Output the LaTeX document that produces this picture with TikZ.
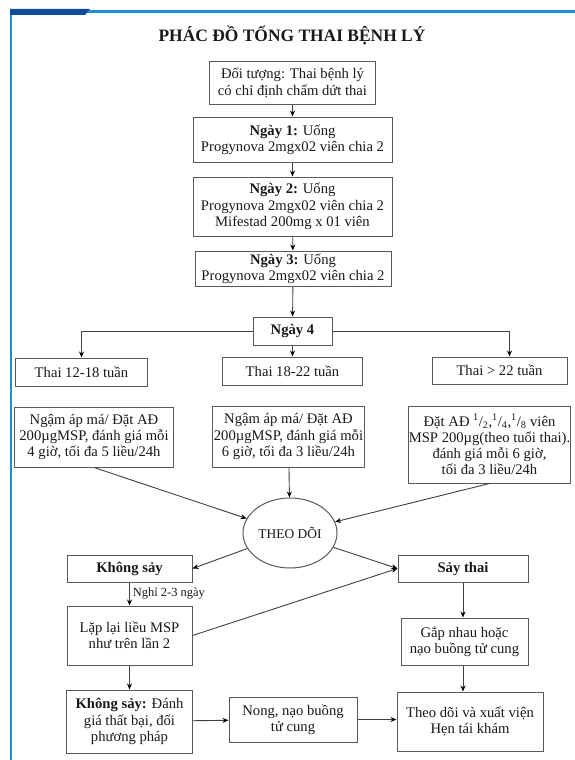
\documentclass[tikz,border=0pt]{standalone}
\usepackage{fontspec}
\setmainfont{Liberation Serif}
\usetikzlibrary{arrows.meta,positioning,calc,shapes.geometric}
\definecolor{framedark}{RGB}{14,78,152}
\definecolor{frameblue}{RGB}{33,140,214}

\begin{document}
\begin{tikzpicture}[x=1bp,y=-1bp,>={Stealth[length=6bp,width=5bp,color=black]},
  font=\fontsize{14.7}{16.3}\selectfont,
  box/.style={draw=black!65,line width=1bp,align=center,inner sep=1bp,text=black!90},
  arr/.style={->,draw=black!75,line width=0.9bp}]
  \useasboundingbox (0,0) rectangle (575,760);
  \fill[white] (0,0) rectangle (575,760);
  \draw[frameblue,line width=2bp] (11,10) -- (11,760);
  \draw[frameblue,line width=3bp] (10,12) -- (575,12);
  \fill[framedark] (10,9) -- (90,9) -- (85,15) -- (10,15) -- cycle;

  \node[font=\fontsize{17.5}{20}\selectfont\bfseries,text=black!90] (title) at (292,35) {PHÁC ĐỒ TỐNG THAI BỆNH LÝ};
  \node[box,minimum width=166bp,minimum height=42bp] (obj) at (292.5,83) {Đối tượng: Thai bệnh lý\\có chỉ định chấm dứt thai};
  \node[box,minimum width=199bp,minimum height=45bp] (d1) at (292.5,139.5) {\textbf{Ngày 1:} Uống\\Progynova 2mgx02 viên chia 2};
  \node[box,minimum width=199bp,minimum height=59bp] (d2) at (292.5,206.5) {\textbf{Ngày 2:} Uống\\Progynova 2mgx02 viên chia 2\\Mifestad 200mg x 01 viên};
  \node[box,minimum width=196bp,minimum height=35bp] (d3) at (293,268.5) {\textbf{Ngày 3:} Uống\\Progynova 2mgx02 viên chia 2};
  \node[box,minimum width=79bp,minimum height=28bp] (d4) at (292.5,331) {\textbf{Ngày 4}};

  \node[box,minimum width=131bp,minimum height=28bp] (t1) at (81.5,372) {Thai 12-18 tuần};
  \node[box,minimum width=140bp,minimum height=28bp] (t2) at (292.5,371) {Thai 18-22 tuần};
  \node[box,minimum width=135bp,minimum height=27bp] (t3) at (499.5,370.5) {Thai > 22 tuần};

  \node[box,minimum width=158bp,minimum height=60bp] (m1) at (94,437) {Ngậm áp má/ Đặt AĐ\\200µgMSP, đánh giá mỗi\\4 giờ, tối đa 5 liều/24h};
  \node[box,minimum width=151bp,minimum height=61bp] (m2) at (288.5,436.5) {Ngậm áp má/ Đặt AĐ\\200µgMSP, đánh giá mỗi\\6 giờ, tối đa 3 liều/24h};
  \node[box,minimum width=155bp,minimum height=77bp,inner xsep=0bp] (m3) at (489.5,444.5) {Đặt AĐ \textsuperscript{1}/\textsubscript{2},\textsuperscript{1}/\textsubscript{4},\textsuperscript{1}/\textsubscript{8} viên\\MSP 200µg(theo tuổi thai).\\đánh giá mỗi 6 giờ,\\tối đa 3 liều/24h};

  \node[box,ellipse,inner sep=0bp,minimum width=94bp,minimum height=70bp,font=\fontsize{13.5}{16}\selectfont] (el) at (290,533) {THEO DÕI};

  \node[box,minimum width=125bp,minimum height=27bp] (ks) at (129.5,568.5) {\textbf{Không sảy}};
  \node[box,minimum width=130bp,minimum height=27bp] (st) at (463,568.5) {\textbf{Sảy thai}};
  \node[box,minimum width=125bp,minimum height=59bp] (ll) at (129.5,635.5) {Lặp lại liều MSP\\như trên lần 2};
  \node[box,minimum width=127bp,minimum height=47bp] (gn) at (464.5,641.5) {Gắp nhau hoặc\\nạo buồng tử cung};
  \node[box,minimum width=126bp,minimum height=63bp] (dg) at (129.5,721.5) {\textbf{Không sảy:} Đánh\\giá thất bại, đổi\\phương pháp};
  \node[box,minimum width=128bp,minimum height=45bp] (nn) at (293,719.5) {Nong, nạo buồng\\tử cung};
  \node[box,minimum width=146bp,minimum height=59bp] (td) at (470,721.5) {Theo dõi và xuất viện\\Hẹn tái khám};

  \draw[arr] (obj) -- (d1);
  \draw[arr] (d1) -- (d2);
  \draw[arr] (d2) -- (d3);
  \draw[arr] (d3) -- (d4);
  \draw[arr] (d4.west) -| (t1.north);
  \draw[arr] (d4) -- (t2);
  \draw[arr] (d4.east) -| ([xshift=10bp]t3.north);

  \draw[arr] (m1.south) -- (el);
  \draw[arr] (m2) -- (el);
  \draw[arr] (m3.south) -- (el);
  \draw[arr] (el) -- (ks.east);
  \draw[arr] (el) -- (st.west);
  \draw[arr] (ks) -- node[right,inner sep=3bp,font=\fontsize{12.5}{14}\selectfont,text=black!90] (rest) {Nghỉ 2-3 ngày} (ll);
  \draw[arr] (ll.east) -- (st.west);
  \draw[arr] (ll) -- (dg);
  \draw[arr] (dg) -- (nn);
  \draw[arr] (nn) -- (nn -| td.west);
  \draw[arr] (st.south) -- (st.south |- gn.north);
  \draw[arr] (st.south |- gn.south) -- (st.south |- td.north);
\end{tikzpicture}
\end{document}
